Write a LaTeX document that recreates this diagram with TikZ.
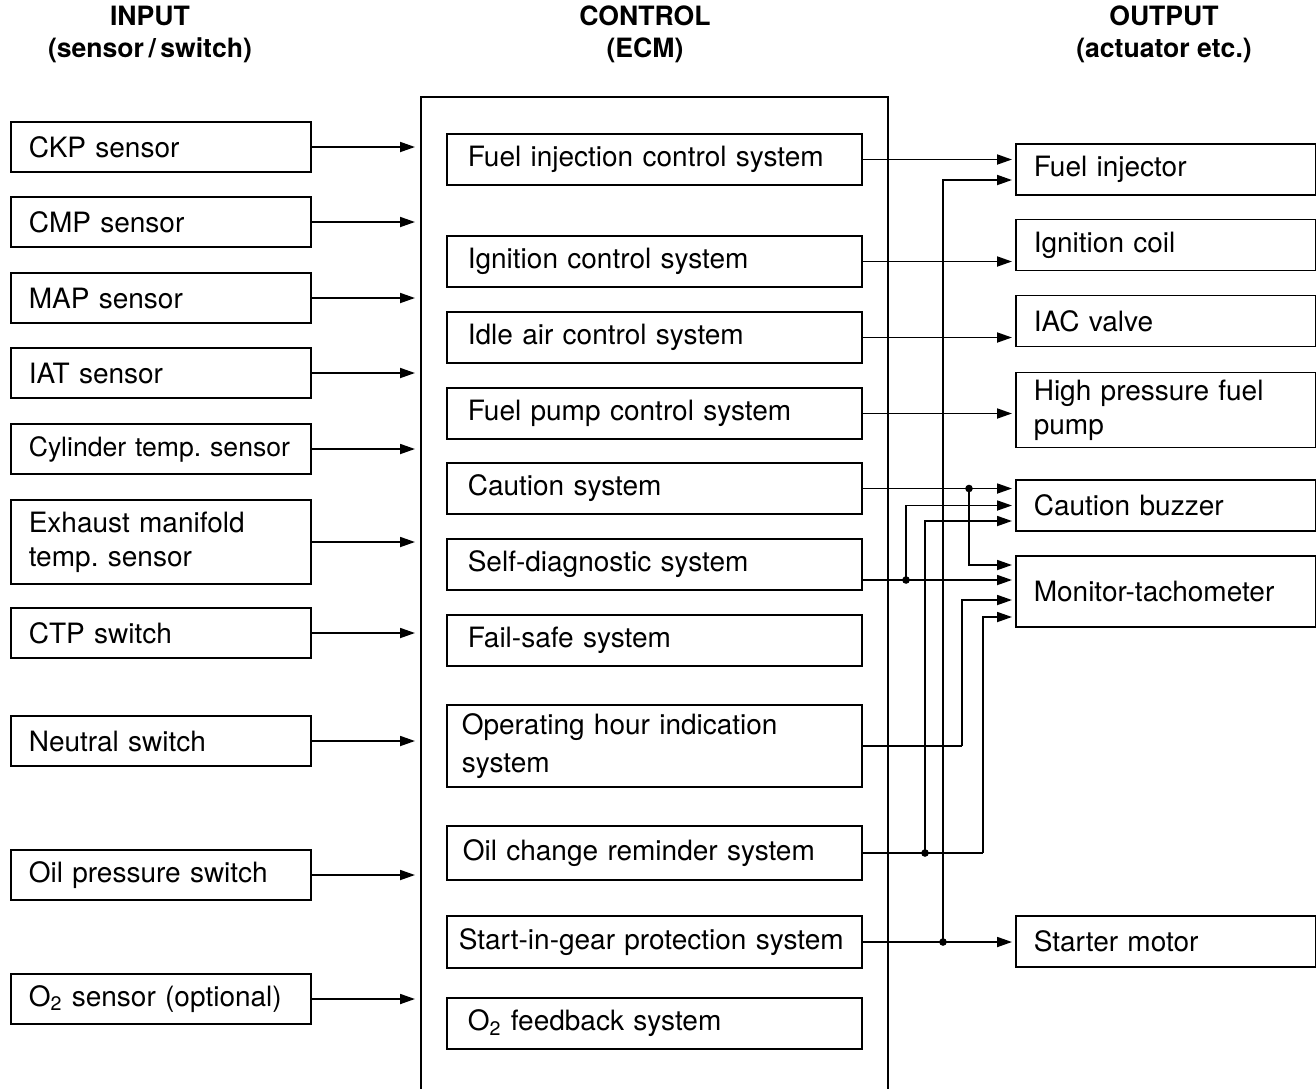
\documentclass[tikz,border=0pt]{standalone}
\usepackage{fontspec}
\setmainfont{TeX Gyre Heros}
\usetikzlibrary{arrows.meta}

\begin{document}
\begin{tikzpicture}[
  x=0.5pt, y=-0.5pt,
  box/.style={draw, line width=0.8pt, anchor=west, align=left,
              font=\fontsize{14}{17}\selectfont\frenchspacing, inner ysep=2pt},
  inbox/.style={box, inner xsep=9pt, text width=132pt, minimum height=25pt},
  ctl/.style={box, inner xsep=10.5pt, text width=186.5pt, minimum height=25.5pt},
  outbox/.style={box, inner xsep=9pt, text width=132pt, minimum height=25.5pt},
  hd/.style={font=\bfseries\fontsize{13.3}{16}\selectfont, align=center},
  ln/.style={line width=0.9pt},
  arr/.style={ln, -{Triangle[length=7.5pt,width=5pt]}, shorten >=1.5pt},
]
\useasboundingbox (0,0) rectangle (1316,1088);

% --- headers ---
\node[hd] (hin)  at (150,34)  {INPUT\\(sensor\,/\,switch)};
\node[hd] (hctl) at (645,34)  {CONTROL\\(ECM)};
\node[hd] (hout) at (1164,34) {OUTPUT\\(actuator etc.)};

% --- input ---
\node[inbox] (ckp)  at (10,147)  {CKP sensor};
\node[inbox] (cmp)  at (10,222)  {CMP sensor};
\node[inbox] (map)  at (10,298)  {MAP sensor};
\node[inbox] (iat)  at (10,373)  {IAT sensor};
\node[inbox, font=\fontsize{13.3}{17}\selectfont\frenchspacing] (cyl) at (10,449) {\mbox{Cylinder temp. sensor}};
\node[inbox, minimum height=42pt] (exh) at (10,542) {Exhaust manifold\\temp. sensor};
\node[inbox] (ctp)  at (10,633)  {CTP switch};
\node[inbox] (neu)  at (10,741)  {Neutral switch};
\node[inbox] (oilp) at (10,875)  {Oil pressure switch};
\node[inbox] (otwo) at (10,999)  {O\textsubscript{2} sensor (optional)};

% --- ECM ---
\node[anchor=north west, inner sep=0pt, minimum width=233pt, minimum height=505pt] (ecm) at (421,97) {};
\draw[line width=0.8pt] (ecm.south west) -- (ecm.north west) -- (ecm.north east) -- (ecm.south east);
\node[ctl] (finj)  at (446,159.5)  {Fuel injection control system};
\node[ctl] (ign)   at (446,261.5)  {Ignition control system};
\node[ctl] (iac)   at (446,337.5)  {Idle air control system};
\node[ctl] (fpump) at (446,413.5)  {Fuel pump control system};
\node[ctl] (caut)  at (446,488.5)  {Caution system};
\node[ctl] (sdiag) at (446,564.5)  {Self-diagnostic system};
\node[ctl] (fsafe) at (446,640.5)  {Fail-safe system};
\node[ctl, inner xsep=7.5pt, text width=192.5pt, minimum height=41pt,
      font=\fontsize{14}{19}\selectfont] (ohour) at (446,746) {Operating hour indication\\system};
\node[ctl, inner xsep=8pt, text width=191.5pt, minimum height=27pt] (oilc) at (446,853) {Oil change reminder system};
\node[ctl, inner xsep=6pt, text width=195.5pt, minimum height=26pt] (sig) at (446,942) {Start-in-gear protection system};
\node[ctl] (ofb)   at (446,1023.5) {O\textsubscript{2} feedback system};

% --- output ---
\node[outbox] (injo)  at (1015,169.5) {Fuel injector};
\node[outbox] (coil)  at (1015,245)   {Ignition coil};
\node[outbox] (iacv)  at (1015,321)   {IAC valve};
\node[outbox, minimum height=37.5pt] (hpfp) at (1015,410) {High pressure fuel\\pump};
\node[outbox] (buzz)  at (1015,505.5) {Caution buzzer};
\node[outbox, minimum height=35.5pt] (tacho) at (1015,591.5) {Monitor-tachometer};
\node[outbox] (start) at (1015,941.5) {Starter motor};

% --- input -> ECM ---
\foreach \n in {ckp,cmp,map,iat,cyl,exh,ctp,neu,oilp,otwo}
  \draw[arr, shorten >=3pt] (\n.east) -- (\n.east -| ecm.west);

% --- ECM -> output ---
\coordinate (jca) at (969,488.5);
\coordinate (jsd) at (906,580);
\coordinate (joc) at (925,853);
\coordinate (jsg) at (943,942);
\coordinate (koh) at (962,746);
\coordinate (koc) at (983,853);

\draw[arr] (finj.east) -- (finj.east -| injo.west);
\draw[arr] (ign.east) -- (ign.east -| coil.west);
\draw[arr] (iac.east) -- (iac.east -| iacv.west);
\draw[arr] (fpump.east) -- (fpump.east -| hpfp.west);
\draw[arr] (caut.east) -- (caut.east -| buzz.west);
\draw[arr] (jca) |- ([yshift=13.25pt]tacho.west);
\draw[arr] (sdiag.east |- jsd) -- (jsd -| tacho.west);
\draw[arr] (jsd) |- (buzz.west);
\draw[ln] (ohour.east) -- (koh);
\draw[arr] (koh) |- ([yshift=-4.25pt]tacho.west);
\draw[ln] (oilc.east) -- (koc);
\draw[arr] (koc) |- ([yshift=-12.75pt]tacho.west);
\draw[arr] (joc) |- ([yshift=-7.75pt]buzz.west);
\draw[arr] (sig.east) -- (sig.east -| start.west);
\draw[arr] (jsg) |- ([yshift=-5.25pt]injo.west);
\foreach \j in {jca,jsd,joc,jsg} \fill (\j) circle (1.9pt);
\end{tikzpicture}
\end{document}
